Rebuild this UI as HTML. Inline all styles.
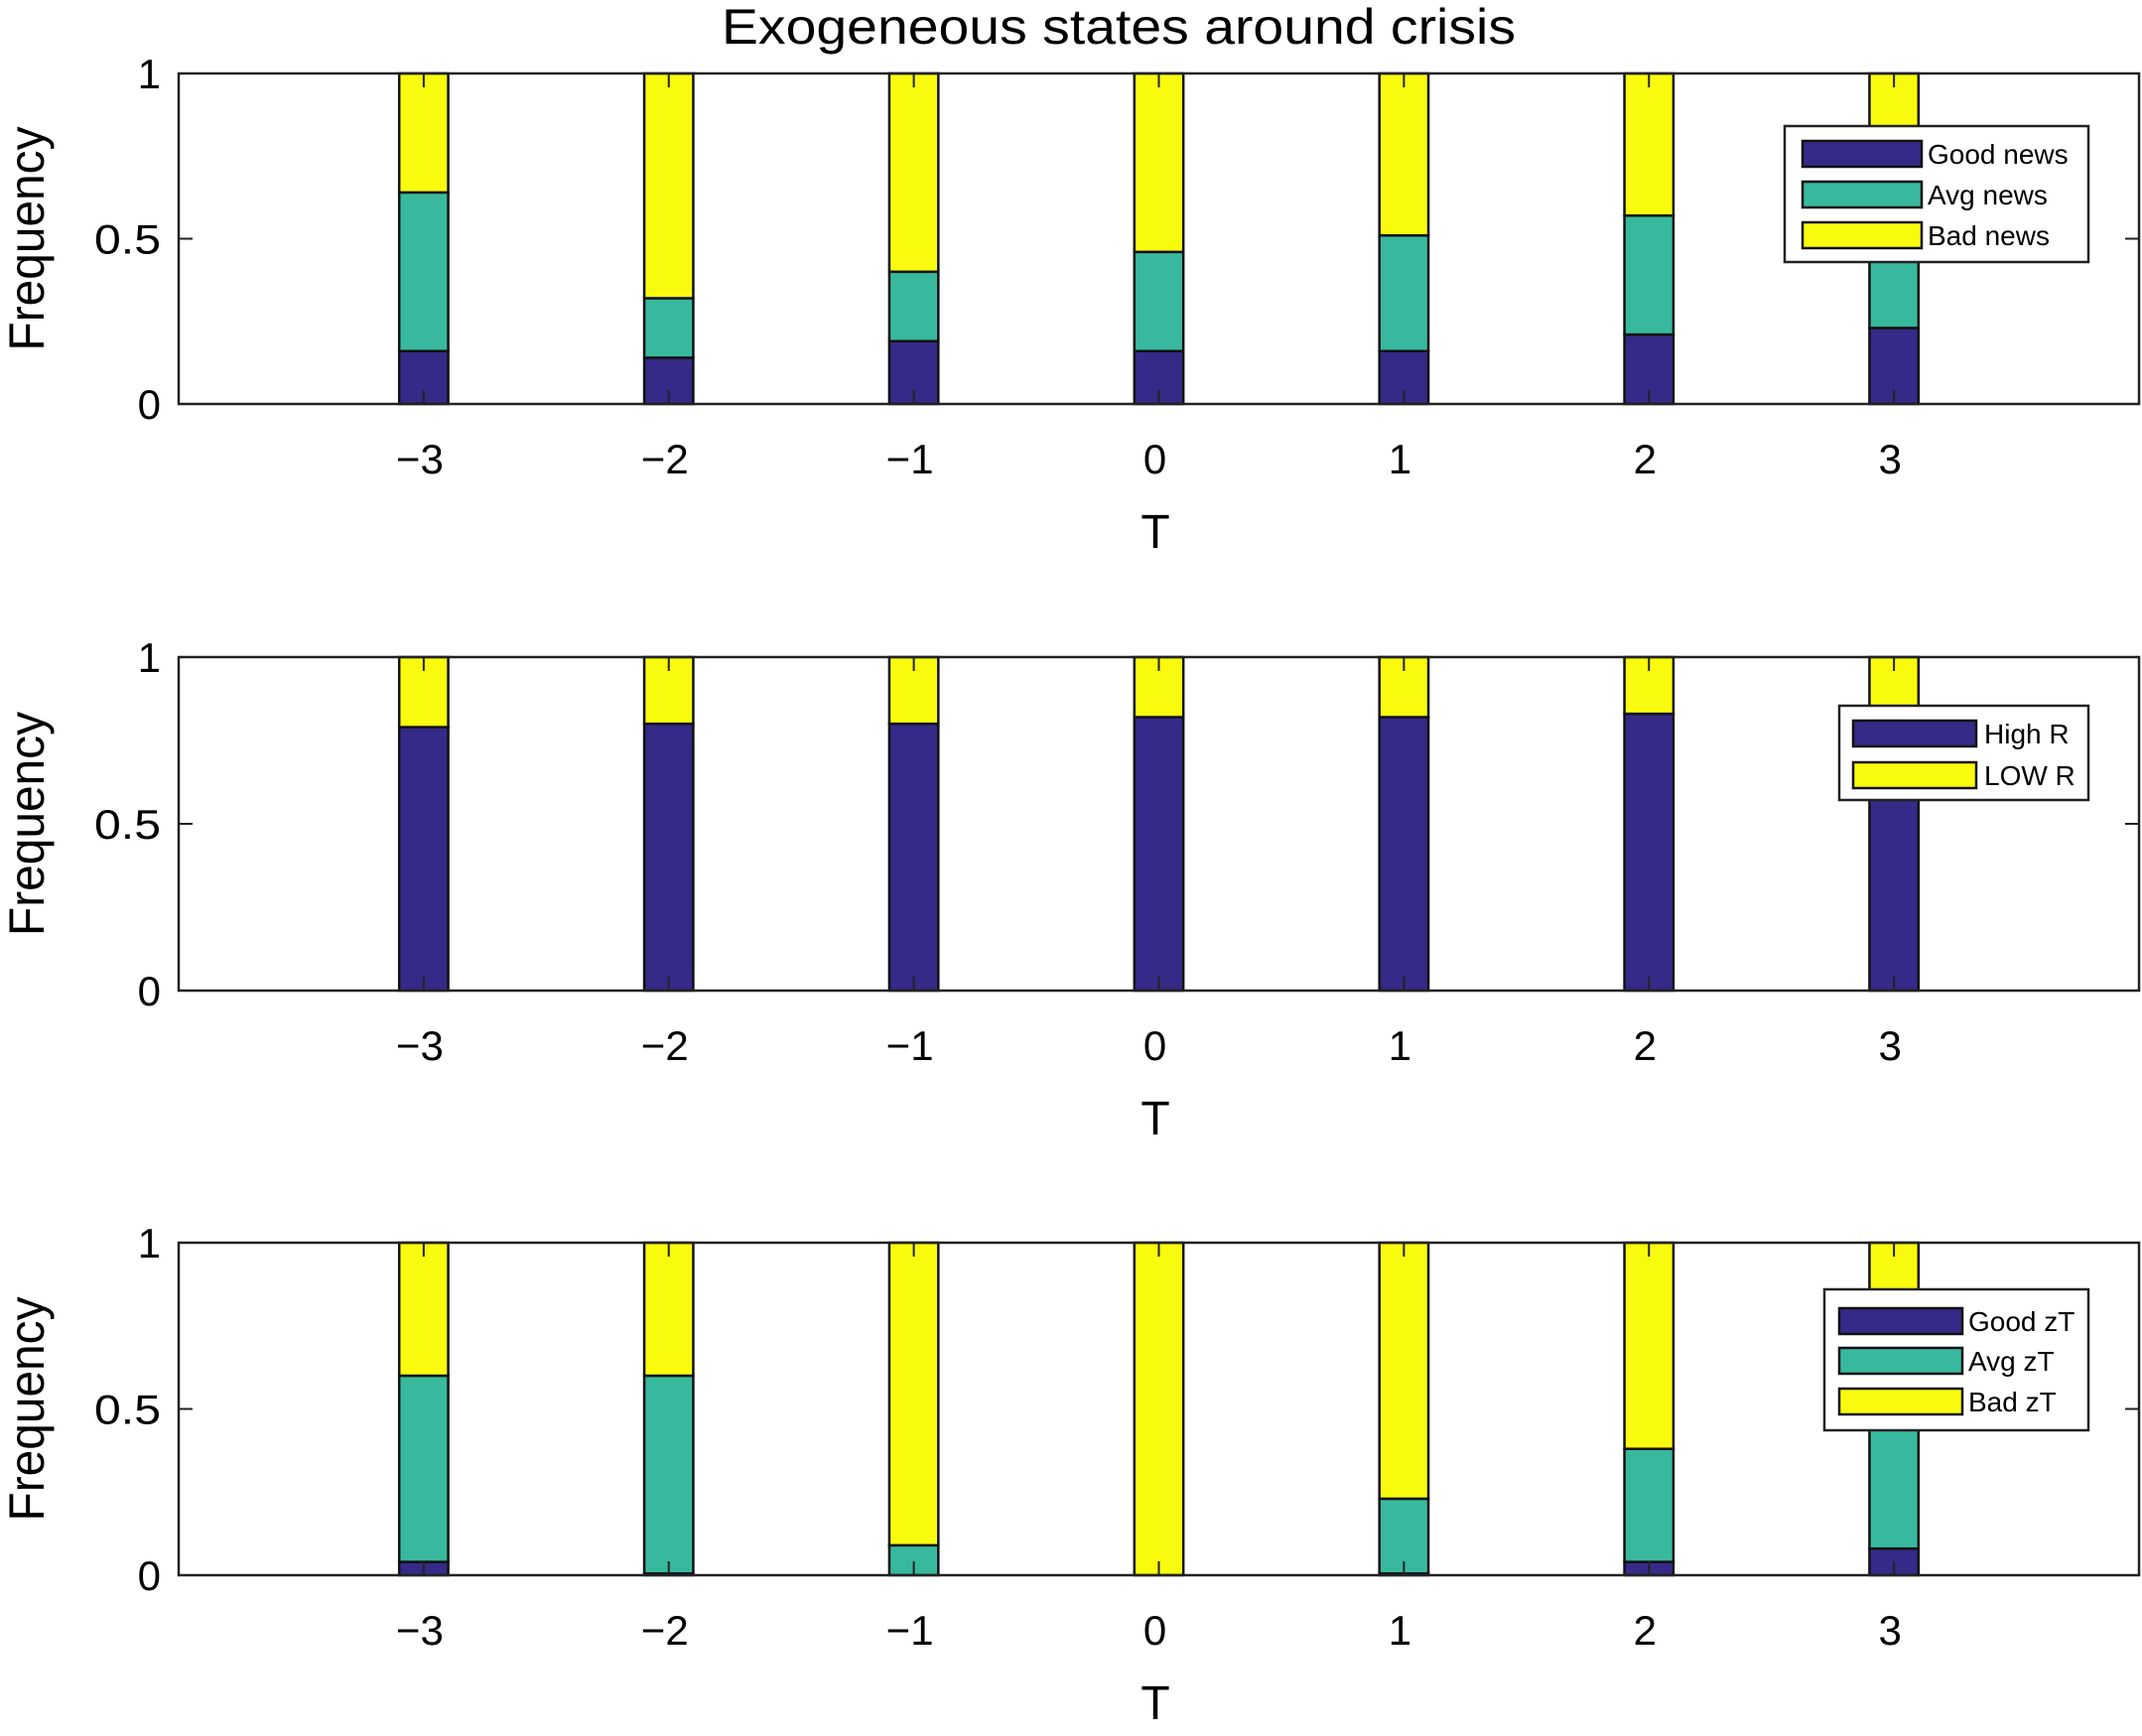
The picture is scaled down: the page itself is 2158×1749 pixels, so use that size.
<!DOCTYPE html>
<html><head><meta charset="utf-8"><style>
html,body{margin:0;padding:0;background:#fff;}
svg{display:block;font-family:"Liberation Sans",Arial,sans-serif;}
</style></head><body>
<svg id="chart" width="2158" height="1749" viewBox="0 0 2158 1749" xmlns="http://www.w3.org/2000/svg">
<text x="1127" y="44" font-size="50" text-anchor="middle" textLength="800" lengthAdjust="spacingAndGlyphs">Exogeneous states around crisis</text>
</svg>
<script>
const categories = [-3, -2, -1, 0, 1, 2, 3];
const yTicks = [0, 0.5, 1];
const yTickLabels = ["0", "0.5", "1"];
const xTickLabels = ["\u22123", "\u22122", "\u22121", "0", "1", "2", "3"];
// panel 1: news
const goodNews = [0.16, 0.14, 0.19, 0.16, 0.16, 0.21, 0.23];
const avgNews = [0.48, 0.18, 0.21, 0.30, 0.35, 0.36, 0.29];
const badNews = [0.36, 0.68, 0.60, 0.54, 0.49, 0.43, 0.48];
// panel 2: R
const highR = [0.79, 0.80, 0.80, 0.82, 0.82, 0.83, 0.82];
const lowR = [0.21, 0.20, 0.20, 0.18, 0.18, 0.17, 0.18];
// panel 3: zT
const goodZT = [0.04, 0.005, 0, 0, 0.005, 0.04, 0.08];
const avgZT = [0.56, 0.595, 0.09, 0, 0.225, 0.34, 0.47];
const badZT = [0.40, 0.40, 0.91, 1.0, 0.77, 0.62, 0.45];
const colors = ["#352a87", "#38b99e", "#f9fb0e"];

const panels = [
  {name:"news", top:74, bottom:407, series:[goodNews, avgNews, badNews], labels:["Good news","Avg news","Bad news"],
   leg:{x:1798,y:127,w:306,h:137,sx:1816,sw:120,tx:1942,rows:[155,196,237]}},
  {name:"r", top:662, bottom:998, series:[highR, lowR], labels:["High R","LOW R"], cols:[colors[0], colors[2]],
   leg:{x:1853,y:711,w:251,h:95,sx:1867,sw:124,tx:1999,rows:[739,781]}},
  {name:"zt", top:1252, bottom:1587, series:[goodZT, avgZT, badZT], labels:["Good zT","Avg zT","Bad zT"],
   leg:{x:1838,y:1299,w:266,h:142,sx:1853,sw:124,tx:1983,rows:[1331,1371,1412]}}
];
const svg = document.getElementById('chart');
const NS = "http://www.w3.org/2000/svg";
const L = 180, R = 2155, xMin = -4, xMax = 4;
function xs(v){ return L + (v - xMin) / (xMax - xMin) * (R - L); }
function mk(tag, attrs, parent){
  const e = document.createElementNS(NS, tag);
  for (const k in attrs) e.setAttribute(k, attrs[k]);
  (parent || svg).appendChild(e);
  return e;
}
panels.forEach((p, pi) => {
  const g = mk('g', {});
  
  
  const ys = v => p.bottom - v * (p.bottom - p.top);
  const cols = p.cols || colors;
  const bw = 0.2 * (R - L) / (xMax - xMin);
  categories.forEach((c, i) => {
    let acc = 0;
    p.series.forEach((s, si) => {
      const v = s[i];
      const y0 = ys(acc), y1 = ys(acc + v);
      acc += v;
      if (v <= 0) return;
      const r = mk('rect', {x: xs(c) - bw/2, y: y1, width: bw, height: y0 - y1, fill: cols[si], stroke: '#111', 'stroke-width': 2.5}, g);
      
      
    });
  });
  const box = mk('rect', {x: L, y: p.top, width: R - L, height: p.bottom - p.top, fill: 'none', stroke: '#222', 'stroke-width': 2.5}, g);
  
  
  categories.forEach((c, i) => {
    mk('line', {x1: xs(c), x2: xs(c), y1: p.bottom, y2: p.bottom - 14, stroke: '#222', 'stroke-width': 2}, g);
    mk('line', {x1: xs(c), x2: xs(c), y1: p.top, y2: p.top + 14, stroke: '#222', 'stroke-width': 2}, g);
    const t = mk('text', {x: xs(c) - 4, y: p.bottom + 70, 'font-size': 42, 'text-anchor': 'middle'}, g);
    t.textContent = xTickLabels[i];
    
    
  });
  yTicks.forEach((v, i) => {
    mk('line', {x1: L, x2: L + 14, y1: ys(v), y2: ys(v), stroke: '#222', 'stroke-width': 2}, g);
    mk('line', {x1: R, x2: R - 14, y1: ys(v), y2: ys(v), stroke: '#222', 'stroke-width': 2}, g);
    const t = mk('text', {x: 162, y: ys(v) + 15, 'font-size': 42, 'text-anchor': 'end'}, g);
    t.textContent = yTickLabels[i];
    if (yTickLabels[i].length > 1) { t.setAttribute('textLength', 67); t.setAttribute('lengthAdjust', 'spacingAndGlyphs'); }
    
    
  });
  const xl = mk('text', {x: 1164, y: p.bottom + 145, 'font-size': 48, 'text-anchor': 'middle'}, g);
  xl.textContent = 'T';
  
  
  const cy = (p.top + p.bottom) / 2;
  const yl = mk('text', {x: 0, y: 0, 'font-size': 50, 'text-anchor': 'middle', transform: 'translate(44,' + cy + ') rotate(-90)', textLength: 226, lengthAdjust: 'spacingAndGlyphs'}, g);
  yl.textContent = 'Frequency';
  
  
  const lg = p.leg;
  const lgG = mk('g', {}, g);
  
  
  mk('rect', {x: lg.x, y: lg.y, width: lg.w, height: lg.h, fill: '#fff', stroke: '#222', 'stroke-width': 2.5}, lgG);
  p.labels.forEach((lab, li) => {
    const ry = lg.rows[li];
    mk('rect', {x: lg.sx, y: ry - 13, width: lg.sw, height: 26, fill: cols[li], stroke: '#111', 'stroke-width': 2.5}, lgG);
    const t = mk('text', {x: lg.tx, y: ry + 10, 'font-size': 28}, lgG);
    t.textContent = lab;
    
    
  });
});
</script>
</body></html>
